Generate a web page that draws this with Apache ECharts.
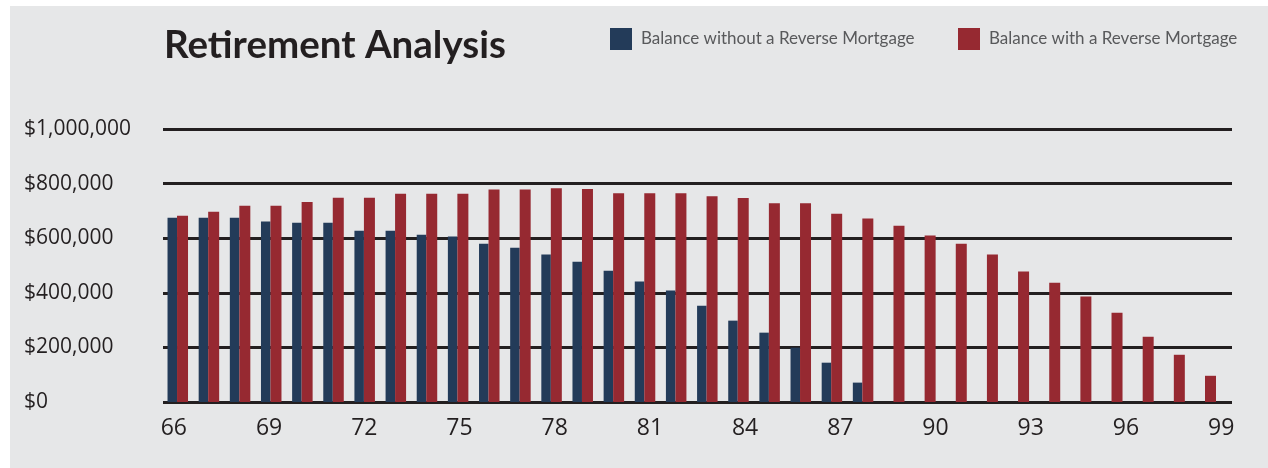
<!DOCTYPE html>
<html>
<head>
<meta charset="utf-8">
<script src="https://cdn.jsdelivr.net/npm/echarts@6/dist/echarts.min.js"></script>
<style>
html,body{margin:0;padding:0;background:#fff;}
#chart{position:absolute;left:0;top:0;width:1268px;height:468px;
background:linear-gradient(#e6e7e8,#e6e7e8) no-repeat 10px 6px / 1258px 462px, #fff;}
</style>
</head>
<body>
<div id="chart"></div>
<script>
const ages = ['66','67','68','69','70','71','72','73','74','75','76','77','78','79','80','81','82','83','84','85','86','87','88','89','90','91','92','93','94','95','96','97','98','99'];
const withoutRM = [675000,675000,675000,661000,657000,657000,627000,627000,613000,606000,580000,565000,540000,514000,481000,441000,408000,353000,298000,254000,199000,144000,71000,0,0,0,0,0,0,0,0,0,0,0];
const withRM = [682000,697000,719000,719000,733000,748000,748000,763000,763000,763000,778000,778000,783000,780000,765000,765000,765000,754000,747000,728000,728000,690000,672000,646000,610000,580000,540000,478000,437000,386000,327000,239000,173000,96000];
const yTickLabels = ['$0','$200,000','$400,000','$600,000','$800,000','$1,000,000'];
const seriesNames = ['Balance without a Reverse Mortgage','Balance with a Reverse Mortgage'];
const titleText = 'Retirement Analysis';

const BLUE = '#233b59', RED = '#962931', DARK = '#231f20';
const chart = echarts.init(document.getElementById('chart'), null, {renderer:'canvas'});
chart.setOption({
  backgroundColor: 'transparent',
  animation: false,
  title: {
    text: titleText, left: 164, top: 26, padding: 0,
    textStyle: {fontFamily: 'Lato', fontWeight: 'bold', fontSize: 38.5, color: DARK}
  },
  legend: [
    {data: [seriesNames[0]], left: 610, top: 28, padding: 0, itemWidth: 22, itemHeight: 22, icon: 'rect',
     textStyle: {fontFamily: 'Lato', fontSize: 17, color: '#58595b', padding: [0,0,0,4]}},
    {data: [seriesNames[1]], left: 958, top: 28, padding: 0, itemWidth: 22, itemHeight: 22, icon: 'rect',
     textStyle: {fontFamily: 'Lato', fontSize: 17, color: '#58595b', padding: [0,0,0,4]}}
  ],
  grid: [
    {left: 163, top: 129, width: 1069, height: 273},
    {left: 162.2, top: 129, width: 1059.1, height: 273},
    {left: 158, top: 129, width: 1079, height: 273}
  ],
  xAxis: [
    {gridIndex: 0, type: 'category', data: ages, show: false},
    {gridIndex: 1, type: 'category', data: ages, show: false},
    {gridIndex: 2, type: 'category', data: ages,
     axisLine: {show: false}, axisTick: {show: false},
     axisLabel: {interval: 2, margin: 15, fontFamily: 'Open Sans', fontSize: 23, color: DARK}}
  ],
  yAxis: [
    {gridIndex: 0, type: 'value', min: 0, max: 1000000, interval: 200000,
     axisLine: {show: false}, axisTick: {show: false},
     splitLine: {show: true, lineStyle: {color: DARK, width: 3}},
     axisLabel: {align: 'left', margin: 139, fontFamily: 'Open Sans', fontSize: 21, color: DARK,
       padding: [0,0,9,0],
       formatter: function(v){ return yTickLabels[Math.round(v/200000)]; }}},
    {gridIndex: 1, type: 'value', min: 0, max: 1000000, show: false, splitLine: {show: false}},
    {gridIndex: 2, type: 'value', min: 0, max: 1000000, show: false, splitLine: {show: false}}
  ],
  series: [
    {name: seriesNames[0], type: 'bar', xAxisIndex: 1, yAxisIndex: 1, data: withoutRM,
     barWidth: 9.5, barGap: '0%', itemStyle: {color: BLUE}},
    {name: seriesNames[1], type: 'bar', xAxisIndex: 1, yAxisIndex: 1, data: withRM,
     barWidth: 11, barGap: '0%', itemStyle: {color: RED}}
  ]
});
</script>
</body>
</html>
